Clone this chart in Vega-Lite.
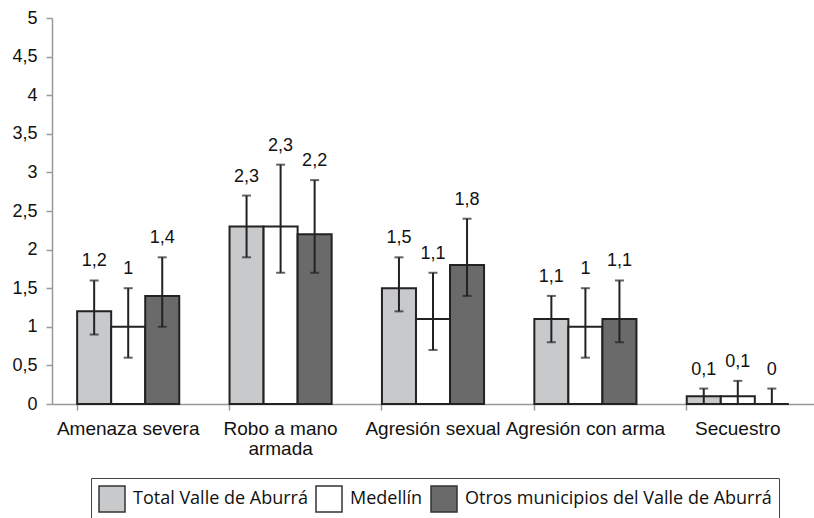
{
  "$schema": "https://vega.github.io/schema/vega-lite/v6.json",
  "width": 762,
  "height": 386,
  "autosize": {"type": "none"},
  "padding": {"left": 52, "top": 18, "right": 0, "bottom": 114},
  "background": "white",
  "config": {
    "view": {"stroke": null},
    "locale": {"number": {"decimal": ",", "thousands": ".", "grouping": [3], "currency": ["", " €"]}},
    "font": "Liberation Sans",
    "axis": {"labelFont": "Liberation Sans"},
    "text": {"font": "Liberation Sans"}
  },
  "data": {
    "values": [
      {"cat": "Amenaza severa", "grupo": "Total Valle de Aburrá", "valor": 1.2, "inf": 0.9, "sup": 1.6},
      {"cat": "Amenaza severa", "grupo": "Medellín", "valor": 1.0, "inf": 0.6, "sup": 1.5},
      {"cat": "Amenaza severa", "grupo": "Otros municipios del Valle de Aburrá", "valor": 1.4, "inf": 1.0, "sup": 1.9},
      {"cat": "Robo a mano armada", "grupo": "Total Valle de Aburrá", "valor": 2.3, "inf": 1.9, "sup": 2.7},
      {"cat": "Robo a mano armada", "grupo": "Medellín", "valor": 2.3, "inf": 1.7, "sup": 3.1},
      {"cat": "Robo a mano armada", "grupo": "Otros municipios del Valle de Aburrá", "valor": 2.2, "inf": 1.7, "sup": 2.9},
      {"cat": "Agresión sexual", "grupo": "Total Valle de Aburrá", "valor": 1.5, "inf": 1.2, "sup": 1.9},
      {"cat": "Agresión sexual", "grupo": "Medellín", "valor": 1.1, "inf": 0.7, "sup": 1.7},
      {"cat": "Agresión sexual", "grupo": "Otros municipios del Valle de Aburrá", "valor": 1.8, "inf": 1.4, "sup": 2.4},
      {"cat": "Agresión con arma", "grupo": "Total Valle de Aburrá", "valor": 1.1, "inf": 0.8, "sup": 1.4},
      {"cat": "Agresión con arma", "grupo": "Medellín", "valor": 1.0, "inf": 0.6, "sup": 1.5},
      {"cat": "Agresión con arma", "grupo": "Otros municipios del Valle de Aburrá", "valor": 1.1, "inf": 0.8, "sup": 1.6},
      {"cat": "Secuestro", "grupo": "Total Valle de Aburrá", "valor": 0.1, "inf": 0.0, "sup": 0.2},
      {"cat": "Secuestro", "grupo": "Medellín", "valor": 0.1, "inf": 0.0, "sup": 0.3},
      {"cat": "Secuestro", "grupo": "Otros municipios del Valle de Aburrá", "valor": 0.0, "inf": 0.0, "sup": 0.2}
    ]
  },
  "encoding": {
    "x": {
      "field": "cat", "type": "nominal", "sort": null, "title": null,
      "scale": {"paddingInner": 0.33, "paddingOuter": 0.165},
      "axis": {
        "labelAngle": 0, "labelFont": "Liberation Sans", "labelFontSize": 19, "labelColor": "#111", "labelPadding": 9,
        "labelOverlap": false,
        "labelExpr": "datum.value == 'Robo a mano armada' ? ['Robo a mano', 'armada'] : datum.value",
        "labelLineHeight": 20,
        "domainColor": "#999", "domainWidth": 1.5,
        "tickColor": "#999", "tickSize": 6, "tickWidth": 1.5, "bandPosition": 0
      }
    },
    "xOffset": {
      "field": "grupo", "type": "nominal",
      "scale": {"domain": ["Total Valle de Aburrá", "Medellín", "Otros municipios del Valle de Aburrá"], "paddingInner": 0, "paddingOuter": 0}
    }
  },
  "layer": [
    {
      "mark": {"type": "bar", "stroke": "#222", "strokeWidth": 2},
      "encoding": {
        "y": {
          "field": "valor", "type": "quantitative", "title": null,
          "scale": {"domain": [0, 5], "nice": false},
          "axis": {
            "values": [0, 0.5, 1, 1.5, 2, 2.5, 3, 3.5, 4, 4.5, 5], "format": "~g", "labelOverlap": false,
            "grid": false, "labelFont": "Liberation Sans", "labelFontSize": 18, "labelColor": "#111", "labelPadding": 9,
            "domainColor": "#999", "domainWidth": 1.5, "tickColor": "#999", "tickSize": 6, "tickWidth": 1.5
          }
        },
        "fill": {
          "field": "grupo", "type": "nominal",
          "scale": {"domain": ["Total Valle de Aburrá", "Medellín", "Otros municipios del Valle de Aburrá"], "range": ["#c8c9cb", "#ffffff", "#6a6a6a"]},
          "legend": {
            "title": null, "orient": "none", "legendX": 39, "legendY": 460, "direction": "horizontal",
            "symbolType": "square", "symbolSize": 676, "symbolStrokeColor": "#333", "symbolStrokeWidth": 1.5,
            "symbolOpacity": 1, "labelFont": "Open Sans", "labelFontSize": 18, "labelColor": "#111",
            "labelOffset": 7, "columnPadding": 5, "strokeColor": "#444", "padding": 7,
            "labelLimit": 400
          }
        }
      }
    },
    {
      "mark": {"type": "rule", "color": "#222", "strokeWidth": 2},
      "encoding": {
        "y": {
          "field": "inf", "type": "quantitative", "title": null,
          "axis": {
            "values": [0, 0.5, 1, 1.5, 2, 2.5, 3, 3.5, 4, 4.5, 5], "format": "~g", "labelOverlap": false,
            "grid": false, "labelFont": "Liberation Sans", "labelFontSize": 18, "labelColor": "#111", "labelPadding": 9,
            "domainColor": "#999", "domainWidth": 1.5, "tickColor": "#999", "tickSize": 6, "tickWidth": 1.5
          }
        },
        "y2": {"field": "sup"}
      }
    },
    {
      "mark": {"type": "tick", "color": "#222", "thickness": 2, "size": 9},
      "encoding": {
        "y": {
          "field": "inf", "type": "quantitative", "title": null,
          "axis": {
            "values": [0, 0.5, 1, 1.5, 2, 2.5, 3, 3.5, 4, 4.5, 5], "format": "~g", "labelOverlap": false,
            "grid": false, "labelFont": "Liberation Sans", "labelFontSize": 18, "labelColor": "#111", "labelPadding": 9,
            "domainColor": "#999", "domainWidth": 1.5, "tickColor": "#999", "tickSize": 6, "tickWidth": 1.5
          }
        }
      }
    },
    {
      "mark": {"type": "tick", "color": "#222", "thickness": 2, "size": 9},
      "encoding": {
        "y": {
          "field": "sup", "type": "quantitative", "title": null,
          "axis": {
            "values": [0, 0.5, 1, 1.5, 2, 2.5, 3, 3.5, 4, 4.5, 5], "format": "~g", "labelOverlap": false,
            "grid": false, "labelFont": "Liberation Sans", "labelFontSize": 18, "labelColor": "#111", "labelPadding": 9,
            "domainColor": "#999", "domainWidth": 1.5, "tickColor": "#999", "tickSize": 6, "tickWidth": 1.5
          }
        }
      }
    },
    {
      "mark": {"type": "text", "font": "Liberation Sans", "fontSize": 18, "color": "#111", "baseline": "alphabetic", "dy": -14},
      "encoding": {
        "y": {
          "field": "sup", "type": "quantitative", "title": null,
          "axis": {
            "values": [0, 0.5, 1, 1.5, 2, 2.5, 3, 3.5, 4, 4.5, 5], "format": "~g", "labelOverlap": false,
            "grid": false, "labelFont": "Liberation Sans", "labelFontSize": 18, "labelColor": "#111", "labelPadding": 9,
            "domainColor": "#999", "domainWidth": 1.5, "tickColor": "#999", "tickSize": 6, "tickWidth": 1.5
          }
        },
        "text": {"field": "valor", "type": "quantitative", "format": "~g"}
      }
    }
  ]
}
